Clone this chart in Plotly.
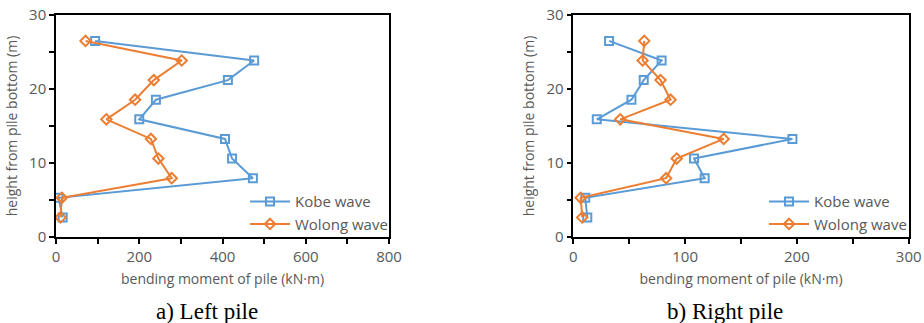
import plotly.graph_objects as go

heights = [26.5, 23.85, 21.2, 18.55, 15.9, 13.25, 10.6, 7.95, 5.3, 2.65]

left_kobe = [94, 476, 413, 240, 200, 406, 423, 473, 6, 16]
left_wolong = [71, 302, 235, 190, 121, 228, 246, 278, 14, 11]

right_kobe = [32, 79, 63, 52, 21, 196, 108, 117.5, 10.7, 12.5]
right_wolong = [63.5, 62, 78, 87, 42, 134.5, 92.5, 83, 6.6, 8]

series_names = ["Kobe wave", "Wolong wave"]
colors = ["#5B9BD5", "#ED7D31"]
symbols = ["square-open", "diamond-open"]
subtitles = ["a) Left pile", "b) Right pile"]
x_title = "bending moment of pile (kN·m)"
y_title = "height from pile bottom (m)"

FONT = "Open Sans"
GRAY = "#595959"

fig = go.Figure()

panels = [
    (left_kobe, left_wolong, "x", "y", "legend"),
    (right_kobe, right_wolong, "x2", "y2", "legend2"),
]
for kobe, wolong, xa, ya, lg in panels:
    for vals, name, c, s in zip([kobe, wolong], series_names, colors, symbols):
        fig.add_trace(go.Scatter(
            x=vals, y=heights, name=name, mode="lines+markers",
            line=dict(color=c, width=2),
            marker=dict(symbol=s, size=8, color=c, line=dict(width=2, color=c)),
            xaxis=xa, yaxis=ya, legend=lg,
        ))

ydom = [1 - 237 / 323, 1 - 15 / 323]
common_axis = dict(
    showline=True, linecolor="black", linewidth=1.5, mirror=True,
    ticks="outside", tickcolor="black", ticklen=5, tickwidth=1.5,
    showgrid=False, zeroline=False, automargin=False,
    tickfont=dict(family=FONT, size=15, color=GRAY),
    title_font=dict(family=FONT, size=14, color=GRAY),
)
minor_common = dict(ticks="outside", ticklen=5, tickcolor="black", tickwidth=1.5)

fig.update_layout(
    width=924, height=323,
    margin=dict(l=0, r=0, t=0, b=0),
    paper_bgcolor="white", plot_bgcolor="white",
    xaxis=dict(domain=[56 / 924, 389 / 924], range=[0, 800], dtick=200,
               minor=dict(dtick=100, **minor_common),
               title=dict(text=x_title, standoff=9), anchor="y", **common_axis),
    yaxis=dict(domain=ydom, range=[0, 30], dtick=10,
               minor=dict(dtick=5, **minor_common),
               title=dict(text=y_title, standoff=8), anchor="x", **common_axis),
    xaxis2=dict(domain=[573.3 / 924, 908.7 / 924], range=[0, 300], dtick=100,
                minor=dict(dtick=50, **minor_common),
                title=dict(text=x_title, standoff=9), anchor="y2", **common_axis),
    yaxis2=dict(domain=ydom, range=[0, 30], dtick=10,
                minor=dict(dtick=5, **minor_common),
                title=dict(text=y_title, standoff=8), anchor="x2", **common_axis),
    legend=dict(x=393 / 924, xanchor="right", y=ydom[0] - 0.01, yanchor="bottom",
                bgcolor="rgba(0,0,0,0)", font=dict(family=FONT, size=15, color=GRAY),
                tracegroupgap=0, itemwidth=40),
    legend2=dict(x=912 / 924, xanchor="right", y=ydom[0] - 0.01, yanchor="bottom",
                 bgcolor="rgba(0,0,0,0)", font=dict(family=FONT, size=15, color=GRAY),
                 tracegroupgap=0, itemwidth=40),
    showlegend=True,
)

for xc, text in zip([207 / 924, 725 / 924], subtitles):
    fig.add_annotation(text=text, x=xc, y=1 - 311 / 323, xref="paper", yref="paper",
                       showarrow=False, xanchor="center", yanchor="middle",
                       font=dict(family="Liberation Serif", size=23, color="black"))

fig.write_html("out.html", config={"displayModeBar": False},
               post_script="document.body.style.margin='0';")
